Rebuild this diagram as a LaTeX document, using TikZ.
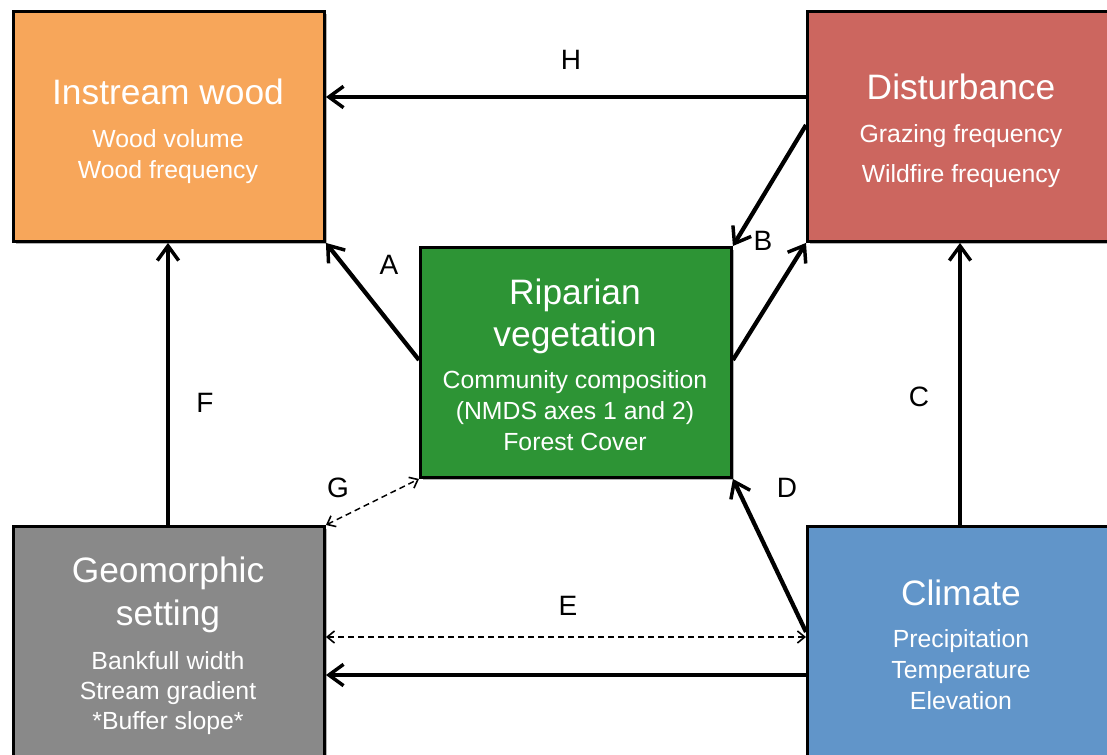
\documentclass[tikz,border=0pt]{standalone}
\usepackage{fontspec}
\setmainfont{Liberation Sans}
\usetikzlibrary{arrows.meta,calc,shadows}
\definecolor{cwood}{HTML}{F7A65A}
\definecolor{cdist}{HTML}{CC665F}
\definecolor{crip}{HTML}{2D9435}
\definecolor{cgeo}{HTML}{898989}
\definecolor{cclim}{HTML}{6195C9}
\begin{document}
\begin{tikzpicture}[x=0.75pt,y=-0.75pt,
  box/.style={draw=black, line width=2.2pt, rectangle, inner sep=0pt, anchor=north west,
    drop shadow={shadow xshift=2.2pt, shadow yshift=-2.2pt, opacity=0.3, fill=black}},
  ttl/.style={text=white, font=\fontsize{26.5}{30}\selectfont, anchor=base, inner sep=0pt},
  sub/.style={text=white, font=\fontsize{18.6}{22}\selectfont, anchor=base, inner sep=0pt},
  lbl/.style={font=\fontsize{21}{24}\selectfont, text=black, inner sep=0pt},
  arr/.style={line width=3.2pt, -{Straight Barb[length=11pt,width=16pt,line width=2.6pt]}},
  darr/.style={line width=1.1pt, dash pattern=on 4.5pt off 3pt,
    {Straight Barb[length=5.5pt,width=9pt,line width=1.2pt]}-{Straight Barb[length=5.5pt,width=9pt,line width=1.2pt]}}
]
\clip (0,0) rectangle (1107,755);
\fill[white] (0,0) rectangle (1107,755);

% boxes
\node[box, fill=cwood, minimum width=233.25pt, minimum height=172.5pt] (iw) at (12,10) {};
\node[box, fill=cdist, minimum width=235.5pt, minimum height=172.5pt] (dist) at (806,10) {};
\node[box, fill=crip, minimum width=233.25pt, minimum height=172.5pt] (rip) at (419,246) {};
\node[box, fill=cgeo, minimum width=233.25pt, minimum height=183.75pt] (geo) at (12,525) {};
\node[box, fill=cclim, minimum width=235.5pt, minimum height=183.75pt] (clim) at (806,525) {};

% texts
\node[ttl] (iwt) at (168,105) {Instream wood};
\node[sub] (iws1) at (168,148) {Wood volume};
\node[sub] (iws2) at (168,179) {Wood frequency};

\node[ttl] (dt) at (961,100) {Disturbance};
\node[sub] (ds1) at (961,143) {Grazing frequency};
\node[sub] (ds2) at (961,183) {Wildfire frequency};

\node[ttl] (rt1) at (575,305) {Riparian};
\node[ttl] (rt2) at (575,347) {vegetation};
\node[sub] (rs1) at (575,389) {Community composition};
\node[sub] (rs2) at (575,420) {(NMDS axes 1 and 2)};
\node[sub] (rs3) at (575,451) {Forest Cover};

\node[ttl] (gt1) at (168,582) {Geomorphic};
\node[ttl] (gt2) at (168,625) {setting};
\node[sub] (gs1) at (168,669) {Bankfull width};
\node[sub] (gs2) at (168,699) {Stream gradient};
\node[sub] (gs3) at (168,729) {*Buffer slope*};

\node[ttl] (ct) at (961,605) {Climate};
\node[sub] (cs1) at (961,647) {Precipitation};
\node[sub] (cs2) at (961,678) {Temperature};
\node[sub] (cs3) at (961,709) {Elevation};

% connector anchors
\coordinate (h1) at ($(dist.north west)+(0,87)$);
\coordinate (d1) at ($(dist.north west)+(0,115)$);
\coordinate (b1) at ($(rip.north east)+(0,114)$);
\coordinate (a1) at ($(rip.north west)+(0,114)$);
\coordinate (f1) at ($(geo.north west)+(156,0)$);
\coordinate (c1) at ($(clim.north west)+(154,0)$);
\coordinate (d2) at ($(clim.north west)+(0,107)$);
\coordinate (e1) at ($(clim.north west)+(0,112)$);
\coordinate (k1) at ($(clim.north west)+(0,150)$);

% connectors
\draw[arr] (h1) -- (iw.east |- h1);
\draw[arr] (d1) -- (rip.north east);
\draw[arr] (b1) -- (dist.south west);
\draw[arr] (a1) -- (iw.south east);
\draw[arr] (f1) -- (iw.south -| f1);
\draw[arr] (c1) -- (dist.south -| c1);
\draw[arr] (d2) -- (rip.south east);
\draw[darr] (geo.north east) -- (rip.south west);
\draw[darr] (geo.east |- e1) -- (e1);
\draw[arr] (k1) -- (geo.east |- k1);

% labels
\node[lbl] (lH) at (571,60) {H};
\node[lbl] (lA) at (389,265) {A};
\node[lbl] (lB) at (763,241) {B};
\node[lbl] (lF) at (205,403) {F};
\node[lbl] (lC) at (919,397) {C};
\node[lbl] (lD) at (787,488) {D};
\node[lbl] (lG) at (338,488) {G};
\node[lbl] (lE) at (568,606) {E};
\end{tikzpicture}
\end{document}
